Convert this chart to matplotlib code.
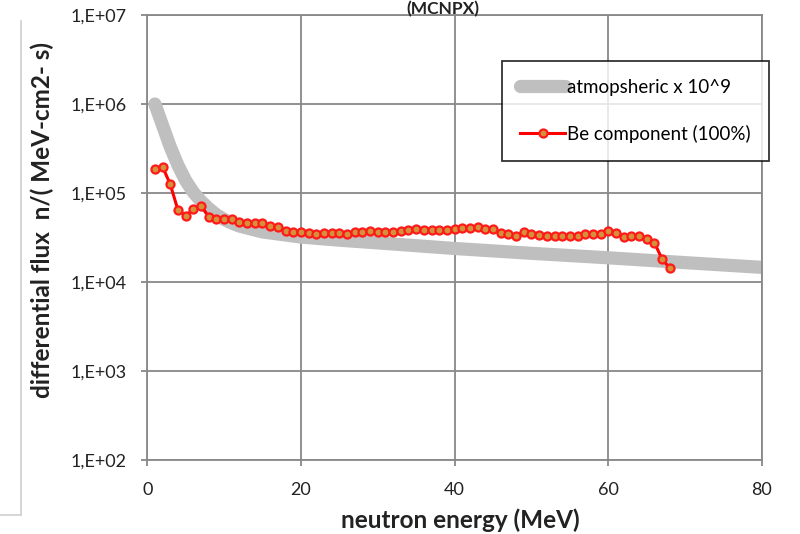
import numpy as np
import matplotlib
matplotlib.use('Agg')
import matplotlib.pyplot as plt
from matplotlib.ticker import FixedLocator, FuncFormatter
from matplotlib.lines import Line2D

plt.rcParams['font.family'] = ['Lato', 'DejaVu Sans']

# atmospheric spectrum (scaled x 10^9)
atm_e = [1, 2, 3, 4, 5, 6, 7, 8, 9, 10, 11, 12, 15, 20, 25, 30, 40, 50, 60, 70, 80]
atm_flux = [1.0e6, 5.75e5, 3.3e5, 2.05e5, 1.38e5, 1.02e5, 8.1e4, 6.7e4, 5.7e4, 5.05e4,
            4.6e4, 4.25e4, 3.65e4, 3.2e4, 2.95e4, 2.75e4, 2.38e4, 2.1e4, 1.87e4, 1.65e4,
            1.46e4]

# Be component, 1 MeV bins
be_e = list(range(1, 69))
be_flux = [1.85e5, 1.97e5, 1.25e5, 6.44e4, 5.56e4, 6.56e4, 7.2e4, 5.42e4, 5.06e4, 5.06e4,
           5.06e4, 4.76e4, 4.64e4, 4.64e4, 4.57e4, 4.31e4, 4.10e4, 3.77e4, 3.65e4, 3.63e4,
           3.53e4, 3.46e4, 3.51e4, 3.58e4, 3.55e4, 3.46e4, 3.63e4, 3.67e4, 3.77e4, 3.60e4,
           3.60e4, 3.60e4, 3.74e4, 3.81e4, 3.91e4, 3.81e4, 3.81e4, 3.81e4, 3.81e4, 3.91e4,
           4.04e4, 4.04e4, 4.12e4, 3.91e4, 3.91e4, 3.58e4, 3.46e4, 3.29e4, 3.67e4, 3.44e4,
           3.37e4, 3.31e4, 3.31e4, 3.31e4, 3.31e4, 3.31e4, 3.49e4, 3.49e4, 3.49e4, 3.77e4,
           3.58e4, 3.23e4, 3.31e4, 3.31e4, 3.02e4, 2.76e4, 1.81e4, 1.43e4]

x_ticks = [0, 20, 40, 60, 80]
y_ticks = [1e2, 1e3, 1e4, 1e5, 1e6, 1e7]

fig = plt.figure(figsize=(8, 5.34), dpi=100)
ax = fig.add_axes([0.184, 0.1386, 0.7685, 0.8333])

ax.plot(atm_e, atm_flux, color='#bfbfbf', lw=9.5, solid_capstyle='round',
        solid_joinstyle='round', label='atmopsheric x 10^9', zorder=2)
ax.plot(be_e, be_flux, color='#ff0000', lw=2.2, marker='o', ms=5.8,
        mfc='#d4903a', mec='#ff1a1a', mew=1.6, label='Be component (100%)', zorder=3)

ax.set_yscale('log')
ax.set_xlim(0, 80)
ax.set_ylim(1e2, 1e7)
ax.xaxis.set_major_locator(FixedLocator(x_ticks))
ax.yaxis.set_major_locator(FixedLocator(y_ticks))
ax.yaxis.set_minor_locator(FixedLocator([]))
ax.yaxis.set_major_formatter(FuncFormatter(lambda v, p: '1,E+%02d' % round(np.log10(v))))
ax.grid(True, color='#888888', lw=1.3)
ax.set_axisbelow(True)
for s in ax.spines.values():
    s.set_color('#888888')
    s.set_linewidth(1.3)
ax.tick_params(axis='both', direction='out', colors='#888888', length=4, width=1.3,
               labelsize=13, labelcolor='#222222')
ax.tick_params(axis='y', pad=11)
ax.tick_params(axis='x', pad=12)

fig.text(0.576, 0.025, 'neutron energy (MeV)', ha='center', va='center',
         fontsize=17.5, fontweight='bold', color='#222222')
fig.text(0.053, 0.588, 'differential flux  n/( MeV-cm2- s)', ha='center', va='center',
         rotation=90, fontsize=17.5, fontweight='bold', color='#222222')
fig.text(0.554, 0.999, '(MCNPX)', ha='center', va='top',
         fontsize=12.5, fontweight='bold', color='#222222')

leg = fig.legend(loc='upper left', bbox_to_anchor=(0.628, 0.886), frameon=True,
                 fancybox=False, edgecolor='black', fontsize=13.5, handlelength=2.4,
                 handletextpad=0.1, labelspacing=1.55, borderpad=0.95, borderaxespad=0)
leg.get_frame().set_linewidth(1.3)

# outer frame fragment at left
fig.add_artist(Line2D([0.026, 0.026], [0.036, 0.96], color='#d0d0d0', lw=1.2))
fig.add_artist(Line2D([0.0, 0.026], [0.036, 0.036], color='#d0d0d0', lw=1.2))

fig.savefig('out.png', dpi=100)
